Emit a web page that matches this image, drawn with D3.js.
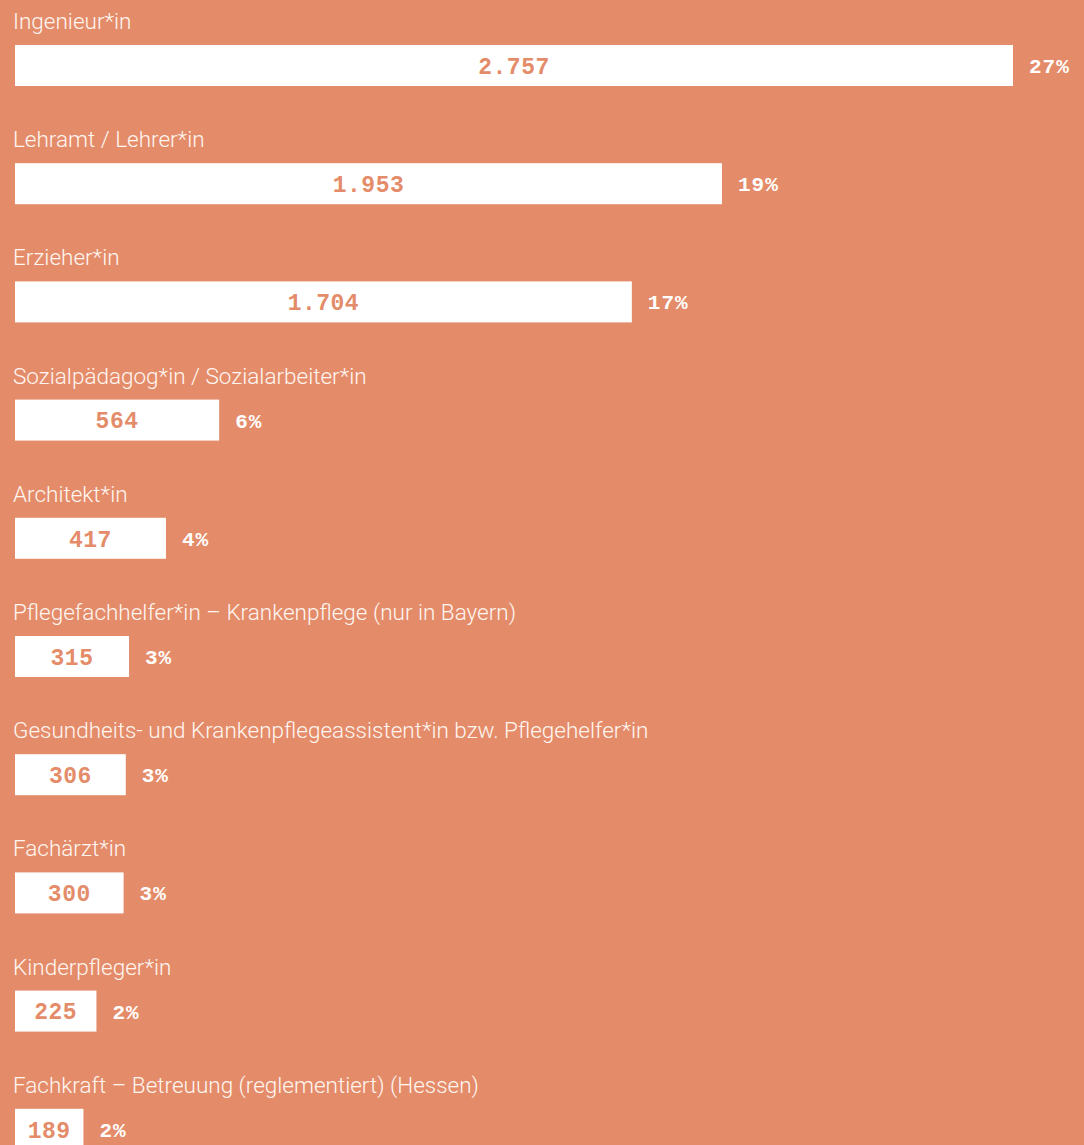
<!DOCTYPE html>
<html>
<head>
<meta charset="utf-8">
<script src="https://cdn.jsdelivr.net/npm/d3@7"></script>
<style>
  html, body { margin: 0; padding: 0; background: #e48c69; }
  #vis-display { width: 1084px; height: 1145px; overflow: hidden; }
</style>
</head>
<body>
<div id="vis-display"></div>
<script>
// Horizontal bars: professions by count, with share in percent.

const PROFESSIONS = [
  "Ingenieur*in",
  "Lehramt / Lehrer*in",
  "Erzieher*in",
  "Sozialpädagog*in / Sozialarbeiter*in",
  "Architekt*in",
  "Pflegefachhelfer*in – Krankenpflege (nur in Bayern)",
  "Gesundheits- und Krankenpflegeassistent*in bzw. Pflegehelfer*in",
  "Fachärzt*in",
  "Kinderpfleger*in",
  "Fachkraft – Betreuung (reglementiert) (Hessen)",
];
const COUNTS   = [2757, 1953, 1704, 564, 417, 315, 306, 300, 225, 189];
const PERCENTS = [27, 19, 17, 6, 4, 3, 3, 3, 2, 2];

const BG     = "#e48c69";
const LABEL  = "#fff6f1";
const W = 1084, H = 1145;

const margin = { top: 45, left: 15 };
const STEP   = 118.2;
const BAR_H  = 41;

const data = PROFESSIONS.map((name, i) => ({ name, count: COUNTS[i], pct: PERCENTS[i] }));

const svg = d3.select("#vis-display").append("svg")
  .attr("width", W)
  .attr("height", H);

svg.append("rect").attr("width", W).attr("height", H).attr("fill", BG);

const x = d3.scaleLinear()
  .domain([0, d3.max(COUNTS)])
  .range([0, 998]);

const n = PROFESSIONS.length;
const y = d3.scaleBand()
  .domain(PROFESSIONS)
  .range([0, STEP * (n - 1) + BAR_H])
  .paddingInner(1 - BAR_H / STEP)
  .paddingOuter(0)
  .align(0);

const fmt = d3.formatLocale({ decimal: ",", thousands: ".", grouping: [3], currency: ["", ""] }).format(",d");

const g = svg.append("g")
  .attr("transform", `translate(${margin.left},${margin.top})`);

const row = g.selectAll("g.row")
  .data(data)
  .join("g")
    .attr("class", "row")
    .attr("transform", d => `translate(0,${y(d.name)})`);

// category label above the bar
row.append("text")
  .attr("x", -2)
  .attr("y", -16)
  .style("font-family", "Roboto, 'Noto Sans', sans-serif")
  .style("font-weight", 300)
  .style("font-size", "22.5px")
  .style("fill", LABEL)
  .text(d => d.name);

row.append("rect")
  .attr("x", 0)
  .attr("width", d => x(d.count))
  .attr("height", y.bandwidth())
  .attr("fill", "#fff");

// count inside bar
row.append("text")
  .attr("x", d => x(d.count) / 2)
  .attr("y", y.bandwidth() / 2)
  .attr("dy", "0.36em")
  .attr("text-anchor", "middle")
  .style("font-family", "'Liberation Mono', monospace")
  .style("font-weight", "bold")
  .style("font-size", "23px")
  .style("letter-spacing", "0.5px")
  .style("fill", BG)
  .text(d => fmt(d.count));

// percent to the right
row.append("text")
  .attr("x", d => x(d.count) + 16)
  .attr("y", y.bandwidth() / 2)
  .attr("dy", "0.36em")
  .style("font-family", "'Liberation Mono', monospace")
  .style("font-weight", "bold")
  .style("font-size", "21px")
  .style("letter-spacing", "1px")
  .style("fill", "#fff")
  .text(d => d.pct + "%");
</script>
</body>
</html>
